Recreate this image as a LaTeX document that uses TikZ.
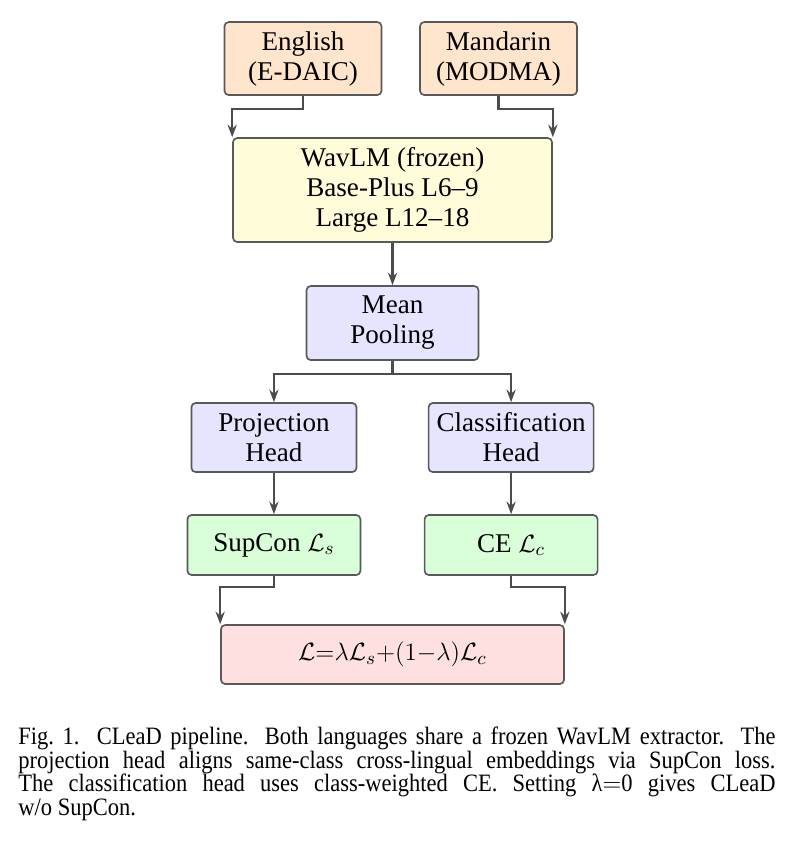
\documentclass[tikz,border=0pt]{standalone}
\usepackage{fontspec}
\setmainfont{Liberation Serif}
\newfontfamily\capfont[FakeStretch=0.9]{Liberation Serif}
\usetikzlibrary{arrows.meta}

\begin{document}
\begin{tikzpicture}[>={Stealth[length=6pt,width=4.4pt]}]
		\def\midx{6.62cm}
		\def\colsep{2.0cm}
		\tikzstyle{box}=[draw=black!65,line width=0.8pt,rounded corners=2pt,align=center,font=\fontsize{13}{14.4}\selectfont]
		\tikzstyle{link}=[->,draw=black!70,line width=1.2pt]
		\useasboundingbox (0,0) rectangle (13.24,-14.184);
		
		% inputs
		\node[box,fill=orange!20,minimum width=2.648cm,minimum height=1.231cm](in-en) at (5.11,-0.987){English\\(E-DAIC)};
		\node[box,fill=orange!20,minimum width=2.648cm,minimum height=1.231cm](in-zh) at (8.408,-0.987){Mandarin\\(MODMA)};
		
		\node[box,fill=yellow!15,minimum width=5.38cm,minimum height=1.754cm](wav) at (\midx,-3.205){WavLM (frozen)\\Base-Plus L6--9\\Large L12--18};
		
		\node[box,fill=blue!10,minimum width=2.901cm,minimum height=1.248cm](pool) at (\midx,-5.448){Mean\\Pooling};
		
		% heads
		\node[box,fill=blue!10,minimum width=2.783cm,minimum height=1.164cm](head-p) at ([xshift=-\colsep]\midx,-7.379){Projection\\Head};
		\node[box,fill=blue!10,minimum width=2.783cm,minimum height=1.164cm](head-c) at ([xshift=\colsep]\midx,-7.379){Classification\\Head};
		
		% losses
		\node[box,fill=green!15,minimum width=2.918cm,minimum height=1.012cm](loss-s) at ([xshift=-\colsep]\midx,-9.192){SupCon $\mathcal{L}_s$};
		\node[box,fill=green!15,minimum width=2.918cm,minimum height=1.012cm](loss-c) at ([xshift=\colsep]\midx,-9.192){CE $\mathcal{L}_c$};
		
		\node[box,fill=red!12,minimum width=5.785cm,minimum height=0.995cm](loss) at (\midx,-11.039){$\mathcal{L}{=}\lambda\mathcal{L}_s{+}(1{-}\lambda)\mathcal{L}_c$};
		
		\node[anchor=north west,inner sep=0pt,text width=12.77cm,align=justify,font=\capfont\fontsize{12}{11.4}\selectfont](cap) at (0.3036,-12.25){Fig.~1.\ \ CLeaD pipeline. Both languages share a frozen WavLM extractor. The\linebreak projection head aligns same-class cross-lingual embeddings via SupCon loss.\linebreak The classification head uses class-weighted CE. Setting λ$=$0 gives CLeaD\linebreak w/o SupCon.};
		
		\draw[link] (in-en.south) -- ++(0,-0.22) -| (wav.north west);
		\draw[link] (in-zh.south) -- ++(0,-0.22) -| (wav.north east);
		\path[link] (wav) edge (pool);
		\draw[link] (pool.south) -- ++(0,-0.22) -| (head-p.north);
		\draw[link] (pool.south) -- ++(0,-0.22) -| (head-c.north);
		\path[link] (head-p) edge (loss-s)
		(head-c) edge (loss-c);
		\draw[link] (loss-s.south) -- ++(0,-0.19) -| (loss.north west);
		\draw[link] (loss-c.south) -- ++(0,-0.19) -| (loss.north east);
		\end{tikzpicture}
\end{document}
